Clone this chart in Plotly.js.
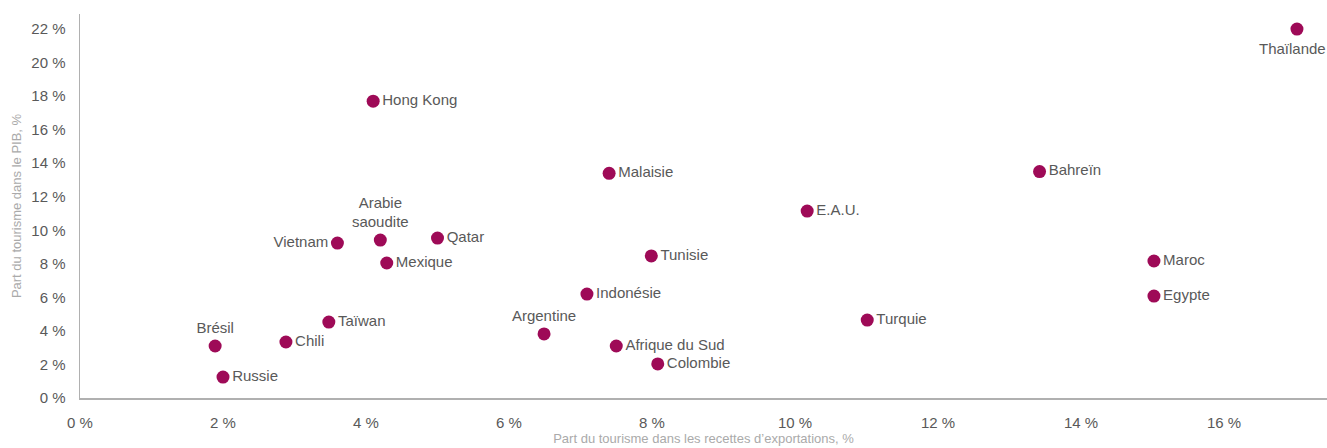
<!DOCTYPE html>
<html><head><meta charset="utf-8">
<script src="https://cdn.plot.ly/plotly-3.0.1.min.js"></script>
<style>body{margin:0;background:#fff}#c{width:1327px;height:448px}</style>
</head><body><div id="c"></div>
<script>
const countries = ["Thaïlande","Hong Kong","Malaisie","Bahreïn","E.A.U.","Arabie<br>saoudite","Vietnam","Qatar","Mexique","Tunisie","Maroc","Indonésie","Egypte","Taïwan","Turquie","Argentine","Chili","Brésil","Afrique du Sud","Russie","Colombie"];
const exportShare = [17.02,4.1,7.4,13.42,10.17,4.2,3.6,5.0,4.29,7.99,15.02,7.09,15.02,3.48,11.01,6.49,2.88,1.89,7.5,2.0,8.08];
const gdpShare = [22.0,17.7,13.4,13.5,11.15,9.42,9.24,9.54,8.05,8.47,8.17,6.2,6.08,4.53,4.65,3.82,3.34,3.1,3.1,1.25,2.03];
const labelPos = ["bottom center","middle right","middle right","middle right","middle right","top center","middle left","middle right","middle right","middle right","middle right","middle right","middle right","middle right","middle right","top center","middle right","top center","middle right","middle right","middle right"];

// The edge label (first point) is drawn as an annotation so it stays inside the picture.
const trace = {
  x: exportShare, y: gdpShare,
  text: countries.map((c, i) => i === 0 ? "" : c),
  mode: "markers+text", type: "scatter",
  textposition: labelPos,
  marker: {size: 13, color: "#9E0A57"},
  textfont: {family: "Liberation Sans, Arial, sans-serif", size: 15, color: "#595959"},
  cliponaxis: false, hoverinfo: "none"
};
const layout = {
  width: 1327, height: 448,
  margin: {l: 80, r: 0, t: 14, b: 50},
  paper_bgcolor: "#fff", plot_bgcolor: "#fff",
  showlegend: false,
  font: {family: "Liberation Sans, Arial, sans-serif", color: "#595959"},
  annotations: [{
    x: exportShare[0], y: gdpShare[0], xref: "x", yref: "y", text: countries[0],
    showarrow: false, xanchor: "right", yanchor: "top", xshift: 31, yshift: -9,
    font: {family: "Liberation Sans, Arial, sans-serif", size: 15, color: "#595959"}
  }],
  xaxis: {range: [0, 17.44], dtick: 2, tick0: 0, ticksuffix: " %", showgrid: false, zeroline: false,
          showline: true, linecolor: "#b0b0b0", linewidth: 1.5, ticks: "", ticklabelstandoff: 10,
          tickfont: {size: 15, color: "#595959"},
          title: {text: "Part du tourisme dans les recettes d’exportations, %", font: {size: 13, color: "#aaa"}, standoff: 4}},
  yaxis: {range: [0, 22.9], dtick: 2, tick0: 0, ticksuffix: " %", showgrid: false, zeroline: false,
          showline: true, linecolor: "#b0b0b0", linewidth: 1.5, ticks: "", ticklabelstandoff: 10,
          tickfont: {size: 15, color: "#595959"},
          title: {text: "Part du tourisme dans le PIB, %", font: {size: 13, color: "#aaa"}, standoff: 6}}
};
Plotly.newPlot("c", [trace], layout, {staticPlot: true});
</script></body></html>
